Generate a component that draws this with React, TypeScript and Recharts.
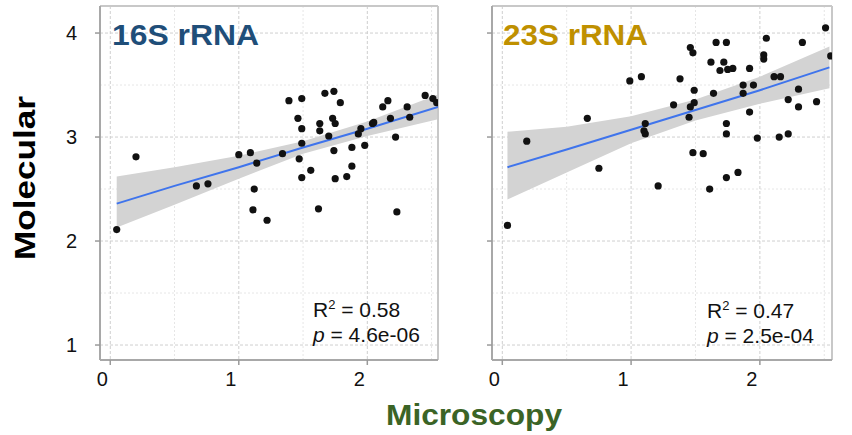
import React from "react";
import {
  ComposedChart,
  Scatter,
  Line,
  Area,
  XAxis,
  YAxis,
  CartesianGrid,
  ReferenceLine,
} from "recharts";

// 16S rRNA: microscopy (x) vs molecular (y) scores
const rna16X = [
  0.05, 0.2, 0.67, 0.76, 1.0, 1.09, 1.11, 1.12, 1.14, 1.22, 1.34, 1.39, 1.46, 1.47, 1.49, 1.49,
  1.49, 1.49, 1.56, 1.62, 1.63, 1.63, 1.67, 1.7, 1.73, 1.74, 1.74, 1.75, 1.75, 1.79, 1.84, 1.88,
  1.88, 1.93, 1.95, 1.98, 2.04, 2.05, 2.12, 2.16, 2.18, 2.22, 2.23, 2.31, 2.33, 2.45, 2.51, 2.54,
];
const rna16Y = [
  2.11, 2.81, 2.53, 2.55, 2.83, 2.85, 2.3, 2.5, 2.75, 2.2, 2.84, 3.35, 3.18, 2.79, 3.37, 3.08,
  2.94, 2.61, 2.68, 2.31, 3.13, 3.06, 3.42, 3.01, 3.18, 3.44, 2.87, 3.13, 2.6, 3.33, 2.62, 2.72,
  2.9, 3.03, 3.08, 2.92, 3.13, 3.14, 3.29, 3.35, 3.18, 3.0, 2.28, 3.29, 3.19, 3.4, 3.37, 3.33,
];

// 16S linear fit with 95% confidence band
const rna16FitX = [0.05, 0.5, 1.0, 1.5, 2.0, 2.55];
const rna16Fit = [2.36, 2.53, 2.71, 2.9, 3.08, 3.29];
const rna16Lo = [2.13, 2.35, 2.6, 2.84, 3.01, 3.17];
const rna16Hi = [2.62, 2.71, 2.82, 2.96, 3.15, 3.41];

// 23S rRNA
const rna23X = [
  0.04, 0.19, 0.66, 0.75, 0.99, 1.08, 1.1, 1.11, 1.11, 1.21, 1.33, 1.38, 1.45, 1.46, 1.48, 1.49,
  1.49, 1.46, 1.48, 1.56, 1.61, 1.62, 1.64, 1.66, 1.69, 1.72, 1.74, 1.75, 1.79, 1.74, 1.74, 1.74,
  1.83, 1.87, 1.87, 1.92, 1.92, 1.95, 1.98, 2.03, 2.03, 2.05, 2.11, 2.16, 2.15, 2.22, 2.22, 2.3,
  2.3, 2.33, 2.44, 2.51, 2.55,
];
const rna23Y = [
  2.15, 2.96, 3.18, 2.7, 3.54, 3.58, 3.06, 3.13, 3.03, 2.53, 3.31, 3.56, 3.19, 3.86, 3.81, 3.45,
  3.33, 3.29, 2.85, 2.84, 2.5, 3.72, 3.42, 3.91, 3.64, 3.72, 3.91, 3.65, 3.66, 3.13, 3.03, 2.61,
  2.66, 3.42, 3.5, 3.66, 3.24, 3.5, 2.99, 3.79, 3.75, 3.95, 3.58, 3.58, 3.0, 3.36, 3.03, 3.46,
  3.29, 3.91, 3.34, 4.05, 3.78,
];

const rna23FitX = [0.04, 0.5, 1.0, 1.5, 2.0, 2.54];
const rna23Fit = [2.71, 2.88, 3.07, 3.26, 3.45, 3.67];
const rna23Lo = [2.4, 2.66, 2.94, 3.16, 3.32, 3.47];
const rna23Hi = [3.05, 3.1, 3.2, 3.36, 3.58, 3.87];

const yTicks = [1, 2, 3, 4];
const xTicks = [0, 1, 2];
const yMinor = [1.5, 2.5, 3.5];
const xMinor = [0.5, 1.5, 2.5];

const Y_DOMAIN: [number, number] = [0.856, 4.26];
const FONT = "'Liberation Sans', Arial, sans-serif";

const toPoints = (xs: number[], ys: number[]) => xs.map((x, i) => ({ x, y: ys[i] }));
const toBand = (xs: number[], fit: number[], lo: number[], hi: number[]) =>
  xs.map((x, i) => ({ x, fit: fit[i], band: [lo[i], hi[i]] }));

const Dot = (props: any) => <circle cx={props.cx} cy={props.cy} r={3.6} fill="#111" />;

const XTick = ({ x, y, payload }: any) => {
  if (!Number.isInteger(payload.value)) return null;
  return (
    <g>
      <line x1={x} x2={x} y1={y - 8} y2={y - 3} stroke="#9a9a9a" strokeWidth={1.5} />
      <text x={x - 8} y={y + 18} textAnchor="middle" fontSize={20} fontFamily={FONT} fill="#111">
        {payload.value}
      </text>
    </g>
  );
};

const makeYTick = (showLabel: boolean) => ({ x, y, payload }: any) => {
  if (!Number.isInteger(payload.value)) return null;
  return (
    <g>
      <line x1={x + 3} x2={x + 8} y1={y} y2={y} stroke="#9a9a9a" strokeWidth={1.5} />
      {showLabel && (
        <text x={x - 15} y={y + 7} textAnchor="end" fontSize={20} fontFamily={FONT} fill="#111">
          {payload.value}
        </text>
      )}
    </g>
  );
};

interface PanelProps {
  width: number;
  margin: { top: number; right: number; bottom: number; left: number };
  yAxisWidth: number;
  xDomain: [number, number];
  points: { x: number; y: number }[];
  band: { x: number; fit: number; band: number[] }[];
  showYLabels: boolean;
}

const Panel: React.FC<PanelProps> = ({ width, margin, yAxisWidth, xDomain, points, band, showYLabels }) => (
  <ComposedChart width={width} height={435} margin={margin}>
    <CartesianGrid
      horizontalValues={yMinor}
      verticalValues={xMinor}
      stroke="#e6e6e6"
      strokeDasharray="2 2"
    />
    <CartesianGrid
      horizontalValues={yTicks}
      verticalValues={xTicks}
      stroke="#cfcfcf"
      strokeDasharray="3 2"
    />
    <XAxis
      type="number"
      dataKey="x"
      domain={xDomain}
      allowDataOverflow
      ticks={[...xTicks, ...xMinor].sort()}
      tick={<XTick />}
      tickLine={false}
      tickSize={6}
      tickMargin={2}
      height={30}
      axisLine={{ stroke: "#a8a8a8", strokeWidth: 2 }}
    />
    <YAxis
      type="number"
      dataKey="y"
      domain={Y_DOMAIN}
      allowDataOverflow
      ticks={[...yTicks, ...yMinor].sort()}
      tick={makeYTick(showYLabels)}
      tickLine={false}
      tickSize={6}
      tickMargin={2}
      width={yAxisWidth}
      axisLine={{ stroke: "#a8a8a8", strokeWidth: 2 }}
    />
    <ReferenceLine y={Y_DOMAIN[1]} stroke="#c8c8c8" strokeWidth={2} />
    <ReferenceLine x={xDomain[1]} stroke="#c8c8c8" strokeWidth={2} />
    <Area
      data={band}
      dataKey="band"
      stroke="none"
      fill="#d3d3d3"
      fillOpacity={1}
      isAnimationActive={false}
    />
    <Line
      data={band}
      dataKey="fit"
      stroke="#3f74ec"
      strokeWidth={2}
      dot={false}
      isAnimationActive={false}
    />
    <Scatter data={points} dataKey="y" shape={Dot} isAnimationActive={false} />
  </ComposedChart>
);

export default function App() {
  return (
    <div
      style={{
        position: "absolute",
        left: 0,
        top: 0,
        width: 852,
        height: 435,
        background: "#fff",
        fontFamily: FONT,
      }}
    >
      <div style={{ position: "absolute", left: 0, top: 0 }}>
        <Panel
          width={440}
          margin={{ top: 6, right: 2, bottom: 45, left: 40 }}
          yAxisWidth={60}
          xDomain={[-0.08, 2.55]}
          points={toPoints(rna16X, rna16Y)}
          band={toBand(rna16FitX, rna16Fit, rna16Lo, rna16Hi)}
          showYLabels
        />
      </div>
      <div style={{ position: "absolute", left: 440, top: 0 }}>
        <Panel
          width={400}
          margin={{ top: 6, right: 8, bottom: 45, left: 0 }}
          yAxisWidth={52}
          xDomain={[-0.08, 2.56]}
          points={toPoints(rna23X, rna23Y)}
          band={toBand(rna23FitX, rna23Fit, rna23Lo, rna23Hi)}
          showYLabels={false}
        />
      </div>
      <svg
        width={852}
        height={435}
        style={{ position: "absolute", left: 0, top: 0, pointerEvents: "none" }}
        fontFamily={FONT}
      >
        <text x={112} y={45} fontSize={30} fontWeight="bold" fill="#1f4e79" textLength={147} lengthAdjust="spacingAndGlyphs">
          16S rRNA
        </text>
        <text x={503} y={45} fontSize={30} fontWeight="bold" fill="#bf9000" textLength={145} lengthAdjust="spacingAndGlyphs">
          23S rRNA
        </text>
        <text
          transform="translate(35,178) rotate(-90)"
          textAnchor="middle"
          fontSize={30}
          fontWeight="bold"
          fill="#000"
          textLength={164}
          lengthAdjust="spacingAndGlyphs"
        >
          Molecular
        </text>
        <text x={474} y={425} textAnchor="middle" fontSize={30} fontWeight="bold" fill="#3b6426" textLength={176} lengthAdjust="spacingAndGlyphs">
          Microscopy
        </text>

        <text x={313} y={317} fontSize={21} fill="#111">
          R<tspan fontSize={13} dy={-8}>2</tspan>
          <tspan dy={8}> = 0.58</tspan>
        </text>
        <text x={313} y={342} fontSize={21} fill="#111">
          <tspan fontStyle="italic">p</tspan> = 4.6e-06
        </text>
        <text x={707} y={318} fontSize={21} fill="#111">
          R<tspan fontSize={13} dy={-8}>2</tspan>
          <tspan dy={8}> = 0.47</tspan>
        </text>
        <text x={707} y={343} fontSize={21} fill="#111">
          <tspan fontStyle="italic">p</tspan> = 2.5e-04
        </text>
      </svg>
    </div>
  );
}
